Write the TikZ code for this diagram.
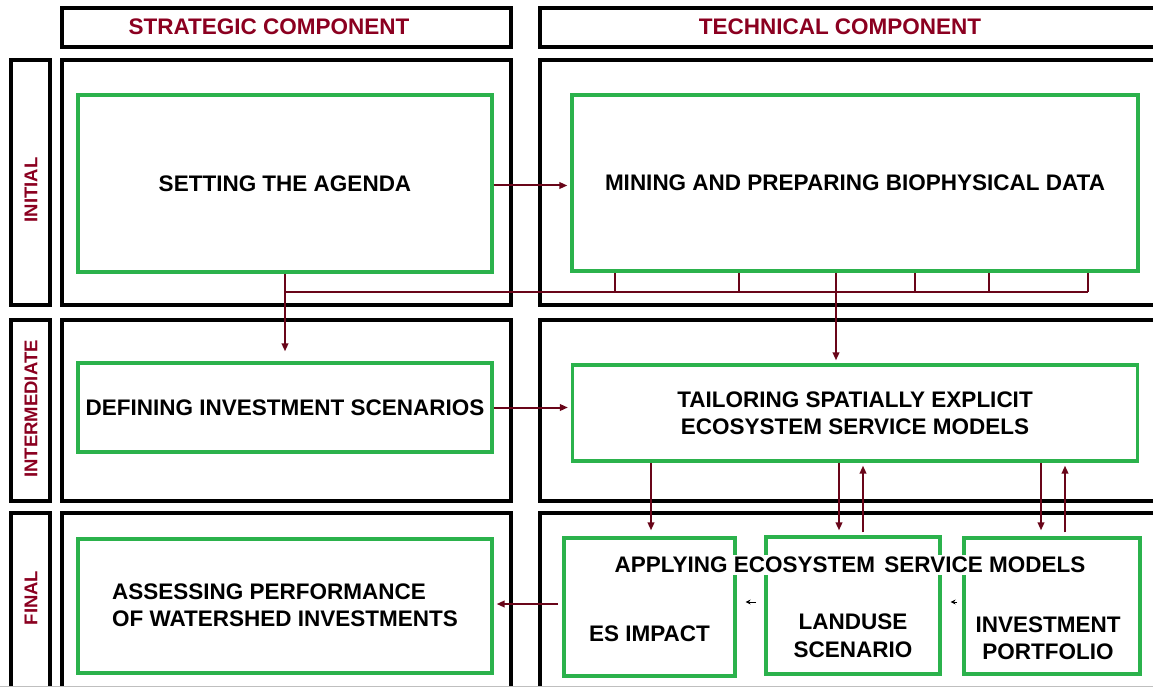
\documentclass[tikz,border=0pt]{standalone}
\usepackage{fontspec}
\setmainfont{Liberation Sans}
\usetikzlibrary{arrows.meta}
\definecolor{gboxc}{RGB}{43,178,76}
\definecolor{hred}{RGB}{139,0,32}
\definecolor{arrred}{RGB}{105,5,25}
\begin{document}
\begin{tikzpicture}[x=1pt,y=-1pt,
  frame/.style={draw=black,line width=3.6pt},
  gbox/.style={draw=gboxc,line width=3.2pt,inner sep=0pt,
    font=\bfseries\fontsize{22.5}{27}\selectfont,text=black},
  lbl/.style={font=\bfseries\fontsize{22.5}{28}\selectfont,text=black,inner sep=0pt},
  hdr/.style={font=\bfseries\fontsize{22.5}{27}\selectfont,text=hred,inner sep=0pt},
  rowlbl/.style={font=\bfseries\fontsize{18.5}{22}\selectfont,text=hred,rotate=90,inner sep=0pt},
  arr/.style={draw=arrred,line width=2pt,-{Triangle[length=8pt,width=6.5pt]}},
  conn/.style={draw=arrred,line width=2pt},
  smallarr/.style={draw=black,line width=1pt,-{Stealth[length=5pt,width=5pt]}}
]
\useasboundingbox (0,0) rectangle (1153,687);
\clip (0,0) rectangle (1153,687);

% header frames
\draw[frame] (62,8) rectangle (511,47);
\draw[frame] (540,8) rectangle (1180,47);
\node[hdr] (hstrat) at (269,27) {STRATEGIC COMPONENT};
\node[hdr] (htech) at (840,27) {TECHNICAL COMPONENT};

% row label frames
\draw[frame] (11,60) rectangle (50,305);
\draw[frame] (11,320) rectangle (50,501);
\draw[frame] (11,513) rectangle (50,720);
\node[rowlbl] (rinit) at (31,190) {INITIAL};
\node[rowlbl] (rinter) at (31,409) {INTERMEDIATE};
\node[rowlbl] (rfinal) at (31,598) {FINAL};

% column frames
\draw[frame] (62,60) rectangle (511,305);
\draw[frame] (62,320) rectangle (511,501);
\draw[frame] (62,513) rectangle (511,720);
\draw[frame] (540,60) rectangle (1180,305);
\draw[frame] (540,320) rectangle (1180,501);
\draw[frame] (540,513) rectangle (1180,720);

% bottom crop line
\draw[gray!50,line width=1pt] (0,686) -- (1153,686);

% green boxes
\node[gbox,minimum width=414pt,minimum height=177pt] (setting) at (285,183.5) {SETTING THE AGENDA};
\node[gbox,minimum width=566pt,minimum height=176pt] (mining) at (855,183) {MINING AND PREPARING BIOPHYSICAL DATA};
\node[gbox,minimum width=414pt,minimum height=89pt] (defining) at (285,407.5) {DEFINING INVESTMENT SCENARIOS};
\node[gbox,minimum width=565pt,minimum height=96pt,align=center,
  font=\bfseries\fontsize{22.5}{27}\selectfont] (tailoring) at (855,413)
  {TAILORING SPATIALLY EXPLICIT\\ECOSYSTEM SERVICE MODELS};
\node[gbox,minimum width=414pt,minimum height=134pt] (assess) at (285,606) {};
\node[lbl,align=left,font=\bfseries\fontsize{22.5}{27}\selectfont] (assesstxt) at (285,605)
  {ASSESSING PERFORMANCE\\OF WATERSHED INVESTMENTS};

\node[gbox,minimum width=171pt,minimum height=138pt] (esimpact) at (649.5,607) {};
\node[lbl] (estxt) at (649.5,634) {ES IMPACT};
\node[gbox,minimum width=174pt,minimum height=137pt] (landuse) at (853,605.5) {};
\node[lbl,align=center] (landtxt) at (853,636) {LANDUSE\\SCENARIO};
\node[gbox,minimum width=176pt,minimum height=136pt] (invest) at (1052,606) {};
\node[lbl,align=center,font=\bfseries\fontsize{22.5}{27}\selectfont] (invtxt) at (1048,638) {INVESTMENT\\PORTFOLIO};

% horizontal arrows
\draw[arr,shorten >=3pt] ([yshift=-2pt]setting.east) -- ([yshift=-2pt]setting.east -| mining.west);
\draw[arr,shorten >=3pt] (defining.east) -- (defining.east -| tailoring.west);
\coordinate (a1) at (558,604);
\draw[arr,shorten >=3pt] (a1) -- (a1 -| assess.east);

% bus from setting / mining
\coordinate (bus) at (0,292);
\draw[conn] (setting.south |- bus) -- (1088,292) coordinate (t5);
\draw[arr,shorten >=10pt] (setting.south) -- (defining.north);
\coordinate (t1) at (615,292);
\coordinate (t2) at (739,292);
\coordinate (t3) at (915,292);
\coordinate (t4) at (989,292);
\foreach \t in {t1,t2,t3,t4,t5}{
  \draw[conn] (\t) -- (\t |- mining.south);
}
\coordinate (c) at (836,292);
\draw[arr,shorten >=3pt] (c |- mining.south) -- (c |- tailoring.north);

% arrows between tailoring and final boxes
\coordinate (d1) at (651,0);
\coordinate (d2) at (839,0);
\coordinate (u2) at (863,0);
\coordinate (d3) at (1041,0);
\coordinate (u3) at (1065,0);
\draw[arr,shorten >=6pt] (d1 |- tailoring.south) -- (d1 |- esimpact.north);
\draw[arr,shorten >=5pt] (d2 |- tailoring.south) -- (d2 |- landuse.north);
\draw[arr,shorten <=3pt,shorten >=3pt] (u2 |- landuse.north) -- (u2 |- tailoring.south);
\draw[arr,shorten >=6pt] (d3 |- tailoring.south) -- (d3 |- invest.north);
\draw[arr,shorten <=4pt,shorten >=3pt] (u3 |- invest.north) -- (u3 |- tailoring.south);

% small black arrows
\coordinate (s1) at (756,602);
\draw[smallarr,shorten >=9pt] (s1) -- (s1 -| esimpact.east);
\coordinate (s2) at (957,602);
\draw[smallarr,shorten >=9pt] (s2) -- (s2 -| landuse.east);

% overlay title
\node[lbl,fill=white,inner xsep=1pt,inner ysep=2pt] (applying) at (850,565)
  {APPLYING ECOSYSTEM\hspace{3pt} SERVICE MODELS};
\end{tikzpicture}
\end{document}
